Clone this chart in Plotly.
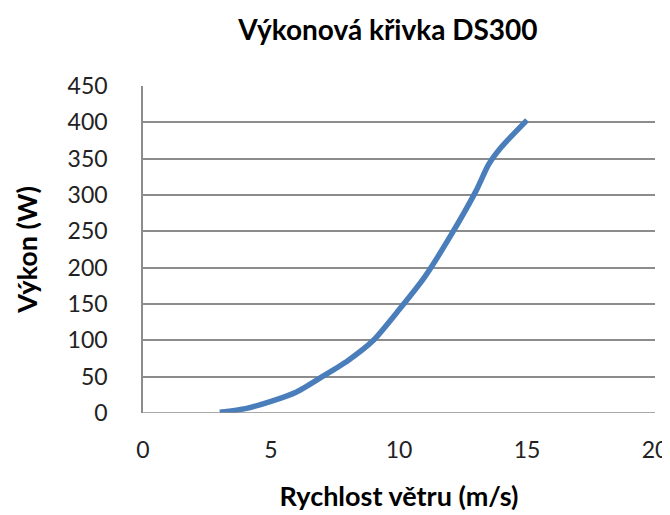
import plotly.graph_objects as go

wind_speed = [3, 4, 5, 6, 7, 8, 9, 10, 11, 12, 13, 13.5, 14, 15]
power_w = [1, 6, 16, 29, 50, 72, 100, 142, 187, 243, 305, 342, 366, 403]

x_ticks = [0, 5, 10, 15, 20]
y_ticks = [0, 50, 100, 150, 200, 250, 300, 350, 400, 450]

FONT = "Lato"

fig = go.Figure()
fig.add_trace(go.Scatter(
    x=wind_speed, y=power_w, mode="lines",
    line=dict(color="#4A7EBB", width=5.5, shape="spline", smoothing=0.6),
    showlegend=False,
))

fig.update_layout(
    width=670, height=515,
    margin=dict(l=135, r=23, t=78, b=110, autoexpand=False),
    paper_bgcolor="white", plot_bgcolor="white",
    font=dict(family=FONT, color="black"),
    title=dict(text="<b>Výkonová křivka DS300</b>", x=0.567, xanchor="center",
               y=0.957, yanchor="middle", font=dict(size=28, family=FONT)),
    xaxis=dict(
        range=[0, 20], tickvals=x_ticks, showgrid=False, zeroline=False,
        showline=False, ticks="", tickfont=dict(size=23, color="#222"),
        ticklabelstandoff=21,
        title=dict(text="<b>Rychlost větru (m/s)</b>", font=dict(size=27), standoff=25),
    ),
    yaxis=dict(
        range=[0, 450], tickvals=y_ticks, showgrid=True, gridcolor="#8c8c8c",
        gridwidth=1.5, zeroline=False, showline=True, linecolor="#8c8c8c",
        linewidth=1.5, ticks="", tickfont=dict(size=23, color="#222"),
        ticklabelstandoff=29,
        title=dict(text="<b>Výkon (W)</b>", font=dict(size=27), standoff=22),
    ),
)
fig.add_hline(y=0, line=dict(color="#8c8c8c", width=1.5))

fig.write_html("out.html")
